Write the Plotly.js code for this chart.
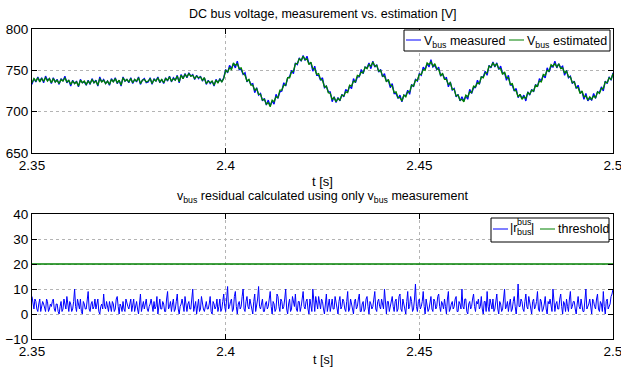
<!DOCTYPE html>
<html>
<head>
<meta charset="utf-8">
<script src="https://cdn.plot.ly/plotly-3.0.1.min.js"></script>
<style>html,body{margin:0;padding:0;background:#fff;}#chart{width:621px;height:369px;}</style>
</head>
<body>
<div id="chart"></div>
<script>
// sample time grids
const tStart = 2.35;
const tStep = 0.0005;      // voltage signals
const tStepRes = 0.00025;  // residual signal

const xTickVals = [2.35, 2.4, 2.45, 2.5];
const xTickText = ['2.35', '2.4', '2.45', '2.5'];
const y1TickVals = [650, 700, 750, 800];
const y2TickVals = [-10, 0, 10, 20, 30, 40];

const vbusMeasured = [
733,740,736,742,737,741,735,743,738,740,
734,741,736,739,733,740,737,743,735,738,
731,738,734,737,730,739,735,736,732,738,
733,740,735,738,731,742,736,739,734,737,
732,740,736,741,734,738,731,742,737,739,
735,741,734,739,736,742,733,738,740,735,
736,741,733,740,737,742,735,739,734,741,
737,743,736,741,738,744,735,745,740,746,
741,747,743,745,739,744,740,743,737,741,
733,738,734,737,731,739,735,740,736,741,
751,747,756,752,758,753,761,751,751,745,
747,736,739,733,734,723,729,720,722,713,
716,708,714,707,713,709,721,716,724,725,
735,731,741,742,750,746,759,757,765,761,
768,762,767,758,759,749,755,744,744,738,
741,729,731,724,724,712,718,711,717,713,
721,718,727,724,731,728,740,735,742,742,
751,746,754,753,759,752,761,754,757,748,
751,742,746,737,738,729,734,722,722,716,
720,712,720,719,726,721,733,730,739,737,
746,744,754,751,758,754,763,754,756,751,
754,743,746,740,741,730,736,726,728,718,
721,713,718,713,719,715,727,722,729,729,
738,733,742,742,749,744,756,753,760,754,
759,751,755,746,747,738,744,732,732,725,
728,717,721,716,720,713,724,720,727,724,
733,730,740,737,744,741,753,748,755,754,
761,753,758,753,755,744,750,741,743,734,
737,728,732,723,724,715,722,713,716,714,
722,716,724,723,730,725,737,734,742,738,
747];

const vbusEstimated = [
735,740,737,741,736,740,737,741,737,740,
735,740,736,738,734,739,737,741,736,738,
733,737,734,736,731,738,735,737,733,737,
734,739,735,737,732,740,736,738,734,737,
733,739,736,740,735,738,732,741,737,739,
736,740,735,739,737,741,734,738,739,736,
737,740,734,739,737,741,736,739,735,740,
738,742,737,740,738,743,736,744,740,745,
742,746,743,744,740,743,741,742,738,741,
734,737,735,737,732,738,735,739,736,740,
750,748,753,751,759,756,758,752,753,746,
744,737,739,732,732,726,728,721,721,714,
715,709,711,706,714,712,718,717,726,726,
732,732,741,741,748,749,758,758,764,762,
767,763,764,757,760,752,752,745,746,739,
738,730,731,723,722,715,717,712,716,714,
720,719,724,723,732,731,737,736,744,743,
748,747,754,752,757,755,760,755,756,749,
750,743,743,736,739,732,731,723,724,717,
717,713,720,718,724,724,732,731,738,738,
745,745,751,750,759,757,760,755,758,752,
751,744,746,739,739,733,735,727,727,719,
720,714,715,712,720,718,724,723,731,730,
735,734,742,741,747,747,755,754,759,755,
758,752,752,745,748,741,741,733,734,726,
725,718,721,715,718,716,723,721,726,725,
732,731,737,736,745,744,750,749,757,755,
758,754,758,752,753,747,749,742,742,735,
736,729,729,722,725,718,719,714,718,715,
719,717,724,722,728,728,736,735,741,739,
746];

const residual = [
7,3,2,6,5,2,1,4,6,1,3,5,4,2,1,6,5,1,2,4,
3,5,6,2,1,4,4,1,0,3,5,1,2,6,3,2,7,3,1,5,
4,1,2,5,10,3,1,6,3,2,6,1,0,5,4,2,2,6,9,2,
1,4,5,2,3,6,2,4,6,1,0,3,4,2,8,3,2,5,3,1,
5,2,1,5,4,1,2,6,7,3,0,4,3,1,5,2,1,6,4,3,
2,5,6,1,3,6,1,3,5,2,0,4,8,1,3,5,2,4,6,2,
1,3,4,6,2,1,5,2,3,7,0,3,6,2,2,5,4,1,1,6,
9,2,3,5,1,4,6,1,2,5,8,2,0,3,4,6,3,1,7,3,
1,4,5,2,2,6,10,1,3,5,0,3,6,1,2,7,4,2,1,4,
5,2,2,4,7,1,0,5,4,2,3,6,1,3,6,1,2,5,8,3,
1,6,11,2,3,5,6,1,2,7,9,3,0,4,5,2,3,7,10,2,
1,5,7,3,2,6,4,2,0,5,8,1,3,6,11,3,2,4,6,1,
1,4,5,2,3,6,9,3,0,5,4,1,2,8,7,3,1,6,5,2,
3,6,10,2,0,4,6,1,2,7,4,3,8,2,1,5,5,1,3,7,
9,3,2,5,6,2,0,6,4,1,10,4,1,7,3,2,7,4,2,6,
5,2,0,4,8,1,3,6,1,4,6,2,2,7,4,1,0,5,7,2,
3,6,5,2,1,5,9,1,2,6,4,3,0,5,6,2,3,6,8,1,
1,4,5,1,2,6,7,3,0,5,4,2,3,6,9,2,1,5,6,3,
2,6,4,2,10,3,0,5,5,1,3,6,7,3,1,5,6,1,2,7,
8,2,1,6,4,3,0,5,9,2,3,7,5,1,2,6,12,3,1,5,
6,2,3,5,9,3,0,6,4,1,2,5,7,2,1,6,5,2,3,7,
8,3,1,5,4,2,6,3,0,6,9,1,2,4,5,2,3,6,7,1,
1,5,4,2,10,3,2,6,6,1,0,4,5,2,3,6,8,3,1,5,
4,6,2,3,7,2,0,5,5,1,9,3,1,6,3,2,6,1,2,5,
8,2,0,5,4,1,2,6,10,2,3,5,1,4,6,1,2,5,7,3,
0,4,12,3,3,6,5,2,1,5,8,3,2,7,4,1,0,5,6,2,
3,5,9,2,1,6,5,1,2,4,7,2,0,5,4,6,3,1,10,3,
1,4,5,2,2,6,8,3,0,5,4,1,6,3,1,6,9,2,3,5,
5,2,0,4,7,3,2,6,4,1,1,5,10,2,3,4,6,3,0,6,
5,3,2,6,8,2,1,5,4,1,9,3,0,5,6,2,3,4,7,8,
10];

const thresholdT = [2.35, 2.5];
const thresholdV = [20, 20];

const t = vbusMeasured.map((_, i) => +(tStart + i * tStep).toFixed(5));
const tRes = residual.map((_, i) => +(tStart + i * tStepRes).toFixed(5));

const BLUE = '#0000ff', GREEN = '#008000';
const FONT = '"Liberation Sans", Arial, Helvetica, sans-serif';

const traces = [
  {x: t, y: vbusMeasured, type: 'scatter', mode: 'lines', line: {color: BLUE, width: 1.3}, xaxis: 'x', yaxis: 'y', hoverinfo: 'skip'},
  {x: t, y: vbusEstimated, type: 'scatter', mode: 'lines', line: {color: GREEN, width: 1.3}, xaxis: 'x', yaxis: 'y', hoverinfo: 'skip'},
  {x: tRes, y: residual, type: 'scatter', mode: 'lines', line: {color: BLUE, width: 1}, xaxis: 'x2', yaxis: 'y2', hoverinfo: 'skip'},
  {x: thresholdT, y: thresholdV, type: 'scatter', mode: 'lines', line: {color: GREEN, width: 1.5}, xaxis: 'x2', yaxis: 'y2', hoverinfo: 'skip'}
];

const W = 621, H = 369, ML = 32, MR = 8;
const px = v => (v - ML) / (W - ML - MR);
const py = v => 1 - v / H;

const axCommon = {
  showline: true, linecolor: '#000', linewidth: 1, mirror: 'ticks',
  ticks: 'inside', ticklen: 5, tickcolor: '#000', tickwidth: 1,
  showgrid: true, gridcolor: '#b4b4b4', griddash: 'dot', gridwidth: 1,
  zeroline: false, tickfont: {family: FONT, size: 13.5, color: '#000'}, fixedrange: true,
  ticklabeloverflow: 'allow'
};

const layout = {
  width: W, height: H,
  margin: {l: ML, r: MR, t: 0, b: 0, pad: 0},
  paper_bgcolor: '#fff', plot_bgcolor: '#fff',
  showlegend: false,
  font: {family: FONT, color: '#000'},
  xaxis: Object.assign({}, axCommon, {domain: [0, 1], range: [2.35, 2.5], tickvals: xTickVals, ticktext: xTickText, anchor: 'y'}),
  yaxis: Object.assign({}, axCommon, {domain: [py(153), py(29)], range: [650, 800], tickvals: y1TickVals, anchor: 'x'}),
  xaxis2: Object.assign({}, axCommon, {domain: [0, 1], range: [2.35, 2.5], tickvals: xTickVals, ticktext: xTickText, anchor: 'y2'}),
  yaxis2: Object.assign({}, axCommon, {domain: [py(339), py(214)], range: [-10, 40], tickvals: y2TickVals, anchor: 'x2'}),
  shapes: [
    {type: 'rect', xref: 'paper', yref: 'paper', x0: px(404), x1: px(610), y0: py(51), y1: py(30), line: {color: '#000', width: 1}, fillcolor: '#fff', layer: 'above'},
    {type: 'line', xref: 'paper', yref: 'paper', x0: px(406), x1: px(421), y0: py(40), y1: py(40), line: {color: BLUE, width: 1}},
    {type: 'line', xref: 'paper', yref: 'paper', x0: px(509), x1: px(524), y0: py(40), y1: py(40), line: {color: GREEN, width: 1}},
    {type: 'rect', xref: 'paper', yref: 'paper', x0: px(491), x1: px(609), y0: py(242), y1: py(218), line: {color: '#000', width: 1}, fillcolor: '#fff', layer: 'above'},
    {type: 'line', xref: 'paper', yref: 'paper', x0: px(493), x1: px(508), y0: py(229), y1: py(229), line: {color: BLUE, width: 1}},
    {type: 'line', xref: 'paper', yref: 'paper', x0: px(540), x1: px(555), y0: py(229), y1: py(229), line: {color: GREEN, width: 1}}
  ],
  annotations: [
    {text: 'DC bus voltage, measurement vs. estimation [V]', xref: 'paper', yref: 'paper', x: 0.5, y: py(14), xanchor: 'center', yanchor: 'middle', showarrow: false, font: {size: 12.5}},
    {text: 't [s]', xref: 'paper', yref: 'paper', x: 0.5, y: py(181), xanchor: 'center', yanchor: 'middle', showarrow: false, font: {size: 13}},
    {text: 'v<sub>bus</sub> residual calculated using only v<sub>bus</sub> measurement', xref: 'paper', yref: 'paper', x: 0.5, y: py(197), xanchor: 'center', yanchor: 'middle', showarrow: false, font: {size: 12.5}},
    {text: 't [s]', xref: 'paper', yref: 'paper', x: 0.5, y: py(360), xanchor: 'center', yanchor: 'middle', showarrow: false, font: {size: 12.5}},
    {text: 'V<sub>bus</sub> measured', xref: 'paper', yref: 'paper', x: px(422), y: py(42), xanchor: 'left', yanchor: 'middle', showarrow: false, font: {size: 12.5}},
    {text: 'V<sub>bus</sub> estimated', xref: 'paper', yref: 'paper', x: px(525), y: py(42), xanchor: 'left', yanchor: 'middle', showarrow: false, font: {size: 12.5}},
    {text: '|r', xref: 'paper', yref: 'paper', x: px(508), y: py(228), xanchor: 'left', yanchor: 'middle', showarrow: false, font: {size: 12.5}},
    {text: 'bus', xref: 'paper', yref: 'paper', x: px(515), y: py(222), xanchor: 'left', yanchor: 'middle', showarrow: false, font: {size: 9}},
    {text: 'bus', xref: 'paper', yref: 'paper', x: px(515), y: py(232), xanchor: 'left', yanchor: 'middle', showarrow: false, font: {size: 9}},
    {text: '|', xref: 'paper', yref: 'paper', x: px(529), y: py(228), xanchor: 'left', yanchor: 'middle', showarrow: false, font: {size: 12.5}},
    {text: 'threshold', xref: 'paper', yref: 'paper', x: px(556), y: py(229), xanchor: 'left', yanchor: 'middle', showarrow: false, font: {size: 12.5}}
  ]
};

Plotly.newPlot('chart', traces, layout, {staticPlot: true, displayModeBar: false});
</script>
</body>
</html>
